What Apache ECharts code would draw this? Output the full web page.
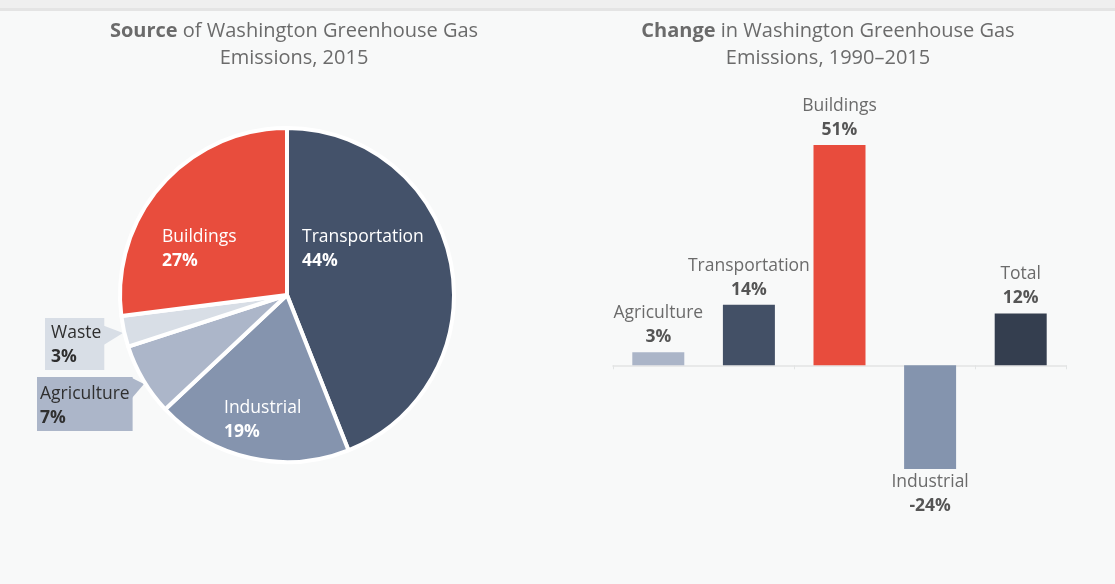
<!DOCTYPE html>
<html>
<head>
<meta charset="utf-8">
<script src="https://cdn.jsdelivr.net/npm/echarts@6/dist/echarts.min.js"></script>
<style>
html,body{margin:0;padding:0;background:#f8f9f9;}
#c{width:1115px;height:584px;}
</style>
</head>
<body>
<div id="c"></div>
<script>
// Pie data (share of 2015 emissions, %)
const pieNames = ['Transportation', 'Industrial', 'Agriculture', 'Waste', 'Buildings'];
const pieValues = [44, 19, 7, 3, 27];
const pieColors = ['#44526a', '#8594ae', '#acb6c9', '#d8dee6', '#e84d3d'];

// Bar data (change 1990-2015, %)
const barCategories = ['Agriculture', 'Transportation', 'Buildings', 'Industrial', 'Total'];
const barValues = [3, 14, 51, -24, 12];
const barColors = ['#abb5c8', '#435066', '#e84c3d', '#8494ae', '#343e4f'];

const FONT = '"Open Sans", "Noto Sans", sans-serif';
const FS = 17.5;
const chart = echarts.init(document.getElementById('c'));

const pieCenter = [287, 295];
// label anchor offsets from pie centre (styling only)
const labelOffsets = {
  Transportation: [15, -70],
  Industrial: [-63, 101],
  Agriculture: [-250, 82],
  Waste: [-242, 23],
  Buildings: [-125, -70]
};
const boxPadding = {
  Waste: [3, 3, 1, 6],
  Agriculture: [5, 3, 1, 3]
};

const pieData = pieNames.map((n, i) => {
  const d = { name: n, value: pieValues[i], itemStyle: { color: pieColors[i] } };
  if (boxPadding[n]) {
    d.label = {
      color: '#2f2f2f',
      backgroundColor: pieColors[i],
      padding: boxPadding[n],
      rich: {
        n: { fontSize: FS, fontFamily: FONT, color: '#2f2f2f', lineHeight: 24 },
        v: { fontSize: FS, fontFamily: FONT, color: '#2f2f2f', fontWeight: 'bold', lineHeight: 24 }
      }
    };
  }
  return d;
});

const titleStyle = {
  fontFamily: FONT, fontSize: 20, fontWeight: 'normal', color: '#6b6b6b', lineHeight: 27, align: 'center',
  rich: { b: { fontFamily: FONT, fontSize: 20, fontWeight: 'bold', color: '#6b6b6b' } }
};

const option = {
  backgroundColor: '#f8f9f9',
  animation: false,
  graphic: [
    { type: 'rect', shape: { x: 0, y: 0, width: 1115, height: 8 }, style: { fill: '#efefef' }, silent: true },
    { type: 'rect', shape: { x: 0, y: 8, width: 1115, height: 3 }, style: { fill: '#e4e4e4' }, silent: true },
    { type: 'polygon', shape: { points: [[102, 325], [123, 333], [102, 346]] }, style: { fill: pieColors[3] }, silent: true },
    { type: 'polygon', shape: { points: [[132, 378], [144, 384], [132, 398]] }, style: { fill: pieColors[2] }, silent: true }
  ],
  title: [
    {
      text: '{b|Source} of Washington Greenhouse Gas\nEmissions, 2015',
      left: 289, top: 13, textAlign: 'center',
      textStyle: titleStyle
    },
    {
      text: '{b|Change} in Washington Greenhouse Gas\nEmissions, 1990\u20132015',
      left: 823, top: 13, textAlign: 'center',
      textStyle: titleStyle
    }
  ],
  grid: { left: 613, right: 49, top: 145, bottom: 115 },
  xAxis: {
    type: 'category',
    data: barCategories,
    axisLine: { lineStyle: { color: '#e2e4e4', width: 1.5 } },
    axisTick: { show: true, length: 4, lineStyle: { color: '#e2e4e4' } },
    axisLabel: { show: false },
    splitLine: { show: false }
  },
  yAxis: {
    type: 'value', min: -24, max: 51, show: false, splitLine: { show: false }
  },
  series: [
    {
      type: 'pie',
      center: pieCenter,
      radius: 167,
      startAngle: 90,
      clockwise: true,
      silent: true,
      itemStyle: { borderColor: '#ffffff', borderWidth: 4 },
      label: {
        show: true,
        position: 'inside',
        formatter: p => '{n|' + p.name + '}\n{v|' + p.value + '%}',
        rich: {
          n: { fontSize: FS, fontFamily: FONT, color: '#ffffff', lineHeight: 24 },
          v: { fontSize: FS, fontFamily: FONT, color: '#ffffff', fontWeight: 'bold', lineHeight: 24 }
        }
      },
      labelLine: { show: false },
      labelLayout: function (p) {
        const off = labelOffsets[pieNames[p.dataIndex]];
        return { x: pieCenter[0] + off[0], y: pieCenter[1] + off[1], align: 'left', verticalAlign: 'top' };
      },
      data: pieData
    },
    {
      type: 'bar',
      barWidth: 52,
      silent: true,
      data: barValues.map((v, i) => ({
        value: v,
        itemStyle: { color: barColors[i] },
        label: { position: v < 0 ? 'bottom' : 'top', distance: v < 0 ? 1 : 3 }
      })),
      label: {
        show: true,
        formatter: p => '{n|' + p.name + '}\n{v|' + p.value + '%}',
        rich: {
          n: { fontSize: FS, fontFamily: FONT, color: '#6b6b6b', lineHeight: 24, align: 'center' },
          v: { fontSize: FS, fontFamily: FONT, color: '#555555', fontWeight: 'bold', lineHeight: 24, align: 'center' }
        }
      }
    }
  ]
};
chart.setOption(option);
</script>
</body>
</html>
